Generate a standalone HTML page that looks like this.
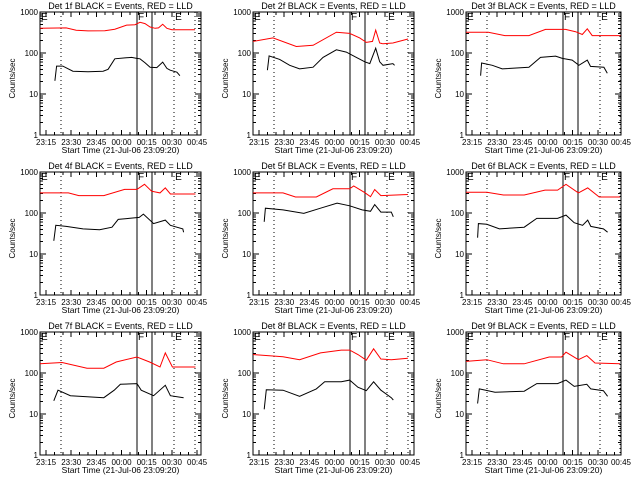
<!DOCTYPE html>
<html><head><meta charset="utf-8">
<style>
html,body{margin:0;padding:0;background:#fff;}
svg{display:block;font-family:"Liberation Sans",sans-serif;}
</style></head>
<body>
<svg id="chart" width="640" height="480" viewBox="0 0 640 480" xmlns="http://www.w3.org/2000/svg" shape-rendering="crispEdges"></svg>
<script>
// Time in minutes after 23:00 on 21-Jul-06; values in counts/sec
const detNames = ["1f","2f","3f","4f","5f","6f","7f","8f","9f"];
const blackT1 = [20.3,21.3,25,31,40,49,52,56,62,66,69,71,74,77,81,84.5,87,89,93,94.8];
const blackV1 = [21,48,48,36,35,36,40,72,76,78,74,72,58,45,44,60,42,38,34,28];
const redT1 = [11.4,27,33,40,50,56,63,68,71,74,77,80,82,84.5,87,90,100,103.8];
const redV1 = [400,410,360,345,350,380,480,490,560,520,430,400,410,500,400,370,370,370];
const blackT2 = [20,21,27.3,33.3,39.2,47.2,53.1,61.1,67,73,78,81,84.5,86.9,88.9,94.8,95.8];
const blackV2 = [38,85,70,50,41,45,78,120,105,78,61,55,131,61,50,55,50];
const redT2 = [11.4,23.3,37.2,47.2,61.1,69,75,79,82.6,84.5,86.9,88.9,94.8,103.8];
const redV2 = [192,233,144,154,322,300,233,181,192,362,175,168,175,220];
const blackT3 = [20.1,20.7,27.1,33,48.9,55.8,64.8,68.8,74.7,78.7,83.7,85.6,93.6,95.6];
const blackV3 = [28,57,50,41,45,78,84,74,67,50,67,47,45,32];
const redT3 = [11.4,24.7,34.6,48.9,58.8,70.7,76.7,80.7,83.7,86.6,103.5];
const redV3 = [322,322,266,266,376,376,330,282,390,266,266];
const blackT4 = [19.6,20.8,27,37,46.9,54.3,58,64.3,70.5,73,79.1,86.1,89.1,96.5,97];
const blackV4 = [21,50,47,41,39,45,70,74,78,94,55,67,50,41,34];
const redT4 = [11.4,28.3,34.5,49.4,61.8,69.2,73.7,77.9,82.9,86.1,89.1,104];
const redV4 = [310,310,266,266,376,376,500,340,310,410,290,290];
const blackT5 = [18.1,18.8,29.3,41.7,51.6,61.5,69,76.4,81.4,83.9,87.6,93.8,95];
const blackV5 = [61,131,119,98,131,174,150,119,110,160,105,105,81];
const redT5 = [11.4,29.3,36.7,49.1,59,69,71.4,77.7,81.4,83.9,87.6,103.7];
const redV5 = [310,310,246,246,390,390,455,320,250,375,266,282];
const blackT6 = [18.3,18.8,23.8,31.3,46.1,53.6,66,71,75.9,80.9,83.9,85.8,93.3,95.8];
const blackV6 = [25,55,53,41,45,74,74,89,58,50,67,47,41,34];
const redT6 = [11.4,23.8,33.7,46.1,58.5,66,71,78.4,83.9,90.8,103.2];
const redV6 = [322,322,275,275,362,362,500,310,410,246,246];
const blackT7 = [19.6,22.1,29.5,49.4,55.6,59.3,69.2,71.7,79.1,86.1,89.1,97];
const blackV7 = [21,38,28,25,38,53,55,38,28,50,28,25];
const redT7 = [11.4,24.6,39.4,49.4,56.8,69.2,76.7,82.9,86.1,90.3,104];
const redV7 = [168,180,131,131,185,246,185,140,310,140,140];
const blackT8 = [18.1,19.3,29.3,39.2,49.1,54.1,64,69,73.9,78.9,83.3,87.6,93.8,95];
const blackV8 = [13,39,38,27,41,61,61,67,45,37,61,38,25,22];
const redT8 = [11.4,29.3,39.2,51.6,64,69,73.9,78.9,83.3,87.6,93.8,103.7];
const redV8 = [282,250,211,310,362,362,282,205,390,220,211,230];
const blackT9 = [18.3,19.3,28.7,46.1,53.6,66,71,75.9,83.4,85.8,93.3,95.8];
const blackV9 = [18,41,34,36,55,55,67,47,53,41,37,27];
const redT9 = [11.4,23.8,33.7,46.1,61,68.4,71,78.4,83.4,88.3,103.2];
const redV9 = [192,211,168,168,246,246,322,211,266,175,168];
const blackT = [blackT1,blackT2,blackT3,blackT4,blackT5,blackT6,blackT7,blackT8,blackT9];
const blackV = [blackV1,blackV2,blackV3,blackV4,blackV5,blackV6,blackV7,blackV8,blackV9];
const redT = [redT1,redT2,redT3,redT4,redT5,redT6,redT7,redT8,redT9];
const redV = [redV1,redV2,redV3,redV4,redV5,redV6,redV7,redV8,redV9];
const xTickVals = [15,30,45,60,75,90,105];
const xTickLabels = ["23:15","23:30","23:45","00:00","00:15","00:30","00:45"];
const yTickVals = [1,10,100,1000];
const yTickLabels = ["1","10","100","1000"];
const dottedLines = [23.9,91.3,103.8];
const solidLines = [69.2,78.1];

const NS = "http://www.w3.org/2000/svg";
const svg = document.getElementById("chart");
function mk(tag, attrs, parent){
  const e = document.createElementNS(NS, tag);
  for (const k in attrs) e.setAttribute(k, attrs[k]);
  (parent||svg).appendChild(e);
  return e;
}
const colOff = [0,213,426], rowOff = [0,160,320], boxW = [161,161,155];
for (let p = 0; p < 9; p++){
  const c = p % 3, r = Math.floor(p / 3);
  const L = colOff[c] + 40, T = rowOff[r] + 12, W = boxW[c], H = 123, B = T + H, R = L + W;
  const xs = t => L + (t - 11.4) * 1.678;
  const ys = v => B - Math.log10(v) / 3 * H;
  const g = mk("g", {});
  
  
  const title = mk("text", {x: L + W/2, y: rowOff[r] + 9, "font-size": 9, "text-anchor": "middle"}, g);
  title.textContent = "Det " + detNames[p] + " BLACK = Events, RED = LLD";
  
  
  const box = mk("rect", {x: L, y: T, width: W, height: H, fill: "none", stroke: "#000", "stroke-width": 1}, g);
  
  
  for (let d = 0; d < 3; d++){
    for (let m = 2; m <= 9; m++){
      const y = ys(Math.pow(10, d) * m);
      mk("line", {x1: L, x2: L + 3, y1: y, y2: y, stroke: "#000"}, g);
      mk("line", {x1: R - 3, x2: R, y1: y, y2: y, stroke: "#000"}, g);
    }
  }
  yTickVals.forEach((v, i) => {
    const y = ys(v);
    mk("line", {x1: L, x2: L + 6, y1: y, y2: y, stroke: "#000"}, g);
    mk("line", {x1: R - 6, x2: R, y1: y, y2: y, stroke: "#000"}, g);
    const t = mk("text", {x: L - 2, y: y + 3, "font-size": 8, "text-anchor": "end"}, g);
    t.textContent = yTickLabels[i];
    
    
  });
  for (let t = 15; t <= 105; t += 5){
    const x = Math.min(xs(t), R);
    const len = (t % 15 === 0) ? 5 : 3;
    mk("line", {x1: x, x2: x, y1: B, y2: B - len, stroke: "#000"}, g);
    mk("line", {x1: x, x2: x, y1: T, y2: T + len, stroke: "#000"}, g);
  }
  xTickVals.forEach((v, i) => {
    const x = Math.min(xs(v), R);
    const t = mk("text", {x: x, y: B + 10, "font-size": 8, "text-anchor": "middle"}, g);
    t.textContent = xTickLabels[i];
    
    
  });
  const xt = mk("text", {x: L + W/2, y: B + 18, "font-size": 8.5, "text-anchor": "middle"}, g);
  xt.textContent = "Start Time (21-Jul-06 23:09:20)";
  
  
  const yt = mk("text", {x: 0, y: 0, "font-size": 8, "text-anchor": "middle", transform: "translate(" + (colOff[c] + 15) + "," + (T + H/2 + 5) + ") rotate(-90)"}, g);
  yt.textContent = "Counts/sec";
  
  
  dottedLines.forEach(t => {
    const x = Math.min(xs(t), R - 1);
    const l = mk("line", {x1: x, x2: x, y1: T, y2: B, stroke: "#000", "stroke-dasharray": "1,3"}, g);
    
    
  });
  solidLines.forEach(t => {
    const x = xs(t);
    const l = mk("line", {x1: x, x2: x, y1: T, y2: B, stroke: "#000"}, g);
    
    
  });
  [[L + 1, "E"], [xs(solidLines[0]) + 1, "F"], [xs(dottedLines[1]) + 1, "E"]].forEach(a => {
    const t = mk("text", {x: a[0], y: T + 8, "font-size": 10}, g);
    t.textContent = a[1];
    
    
  });
  const red = mk("polyline", {points: redT[p].map((t, i) => xs(t).toFixed(1) + "," + ys(redV[p][i]).toFixed(1)).join(" "), fill: "none", stroke: "#ff0000", "stroke-width": 1, "shape-rendering": "auto"}, g);
  
  
  const blk = mk("polyline", {points: blackT[p].map((t, i) => xs(t).toFixed(1) + "," + ys(blackV[p][i]).toFixed(1)).join(" "), fill: "none", stroke: "#000", "stroke-width": 1, "shape-rendering": "auto"}, g);
  
  
}
</script>
</body></html>
